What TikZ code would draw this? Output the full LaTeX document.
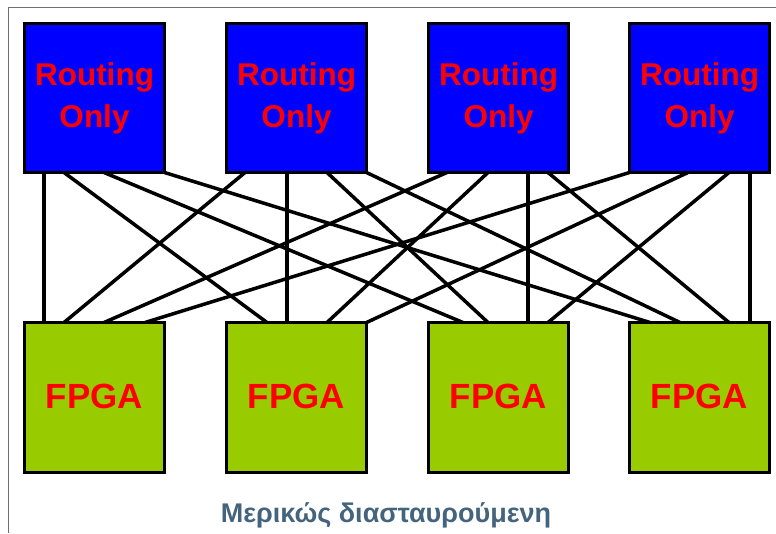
\documentclass[tikz,border=0pt]{standalone}
\usepackage{fontspec}
\setmainfont{Liberation Sans}
\usetikzlibrary{backgrounds}
\definecolor{rblue}{HTML}{0000FF}
\definecolor{fgreen}{HTML}{99CC00}
\definecolor{txtred}{HTML}{FF0000}
\definecolor{capcol}{HTML}{44647E}
\definecolor{framegray}{HTML}{6E6E6E}
\begin{document}
\begin{tikzpicture}[x=1pt,y=-1pt,
  box/.style={draw=black,line width=3.5pt,minimum width=140pt,inner sep=0pt,outer sep=0pt},
  rbox/.style={box,fill=rblue,minimum height=149pt,text=txtred,align=center,
    font=\fontsize{31.5}{42}\selectfont\bfseries},
  fbox/.style={box,fill=fgreen,minimum height=150pt,text=txtred,
    text height=21pt,text depth=0pt,
    font=\fontsize{35}{42}\selectfont\bfseries},
  conn/.style={line width=3.5pt,draw=black},
  framel/.style={line width=1.3pt,draw=framegray}]
\useasboundingbox (0,0) rectangle (776,533);
\draw[framel] (8.5,533) -- (8.5,7.5) -- (776,7.5);
% routing boxes
\node[rbox] (t1) at (94.5,98) {Routing\\Only};
\node[rbox] (t2) at (296.5,98) {Routing\\Only};
\node[rbox] (t3) at (498.5,98) {Routing\\Only};
\node[rbox] (t4) at (699.5,98) {Routing\\Only};
% FPGA boxes
\node[fbox] (b1) at (94.5,397.5) {FPGA};
\node[fbox] (b2) at (296.5,397.5) {FPGA};
\node[fbox] (b3) at (498.5,397.5) {FPGA};
\node[fbox] (b4) at (699.5,397.5) {FPGA};
\begin{scope}[on background layer]
% from t1
\draw[conn] ([xshift=19.5pt]t1.south west) -- ([xshift=19.5pt]b1.north west);
\draw[conn] ([xshift=39.5pt]t1.south west) -- ([xshift=40.5pt]b2.north west);
\draw[conn] ([xshift=79.5pt]t1.south west) -- ([xshift=34.5pt]b3.north west);
\draw[conn] (t1.south east) -- ([xshift=20.5pt]b4.north west);
% from t2
\draw[conn] ([xshift=18.5pt]t2.south west) -- ([xshift=39.5pt]b1.north west);
\draw[conn] ([xshift=60.5pt]t2.south west) -- ([xshift=60.5pt]b2.north west);
\draw[conn] ([xshift=100.5pt]t2.south west) -- ([xshift=59.5pt]b3.north west);
\draw[conn] (t2.south east) -- ([xshift=50.5pt]b4.north west);
% from t3
\draw[conn] ([xshift=18.5pt]t3.south west) -- ([xshift=79.5pt]b1.north west);
\draw[conn] ([xshift=59.5pt]t3.south west) -- ([xshift=100.5pt]b2.north west);
\draw[conn] ([xshift=99.5pt]t3.south west) -- ([xshift=99.5pt]b3.north west);
\draw[conn] ([xshift=119.5pt]t3.south west) -- ([xshift=99.5pt]b4.north west);
% from t4
\draw[conn] (t4.south west) -- ([xshift=120.5pt]b1.north west);
\draw[conn] ([xshift=58.5pt]t4.south west) -- (b2.north east);
\draw[conn] ([xshift=99.5pt]t4.south west) -- ([xshift=119.5pt]b3.north west);
\draw[conn] ([xshift=120.5pt]t4.south west) -- ([xshift=120.5pt]b4.north west);
\end{scope}
\node[text=capcol,font=\fontsize{27}{32}\selectfont\bfseries,anchor=base,inner sep=0pt] (cap) at (386,522) {Μερικώς διασταυρούμενη};
\end{tikzpicture}
\end{document}
